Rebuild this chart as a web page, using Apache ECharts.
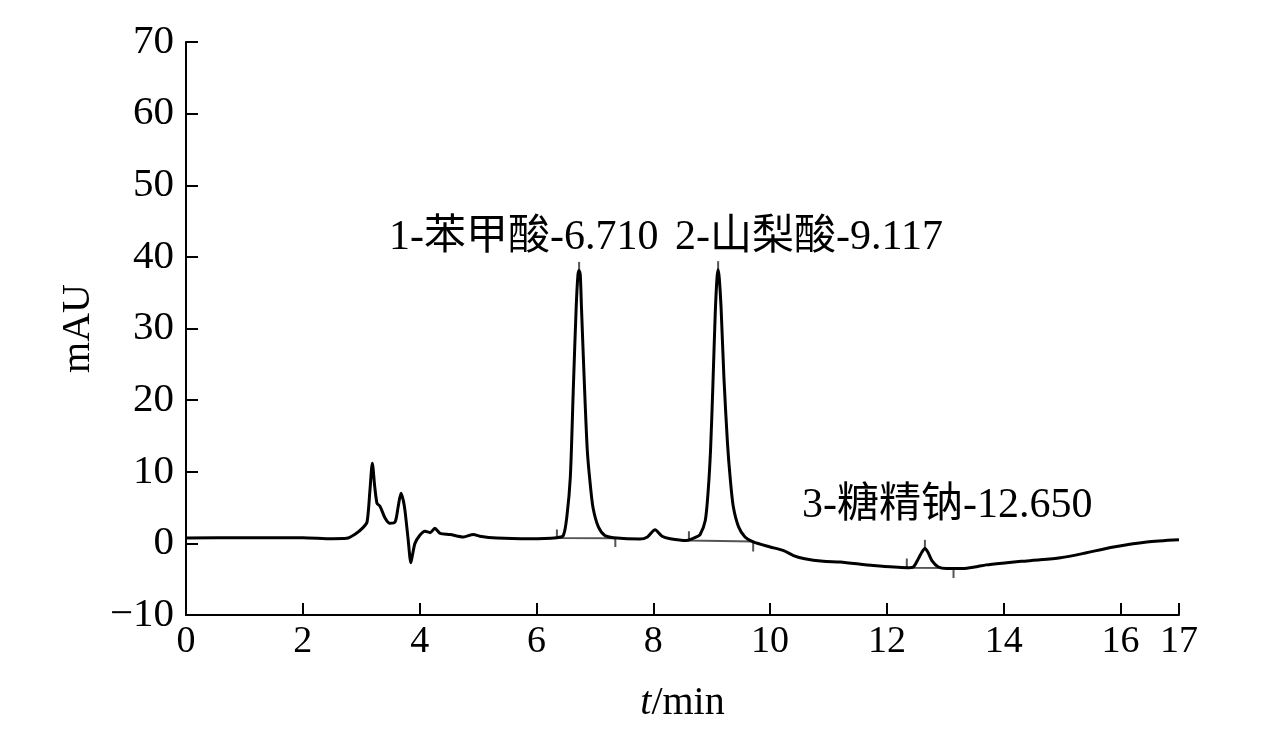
<!DOCTYPE html>
<html>
<head>
<meta charset="utf-8">
<script src="https://cdn.jsdelivr.net/npm/echarts@6/dist/echarts.min.js"></script>
<style>html,body{margin:0;padding:0;background:#fff}#c{width:1276px;height:734px}</style>
</head>
<body>
<div id="c"></div>
<script>
// retention time (min)
var timeMin = [0.0,1.0,2.0,2.5,2.75,2.9,3.03,3.10,3.15,3.19,3.23,3.27,3.32,3.41,3.49,3.58,3.63,3.68,3.72,3.75,3.80,3.85,3.88,3.92,4.00,4.09,4.18,4.26,4.35,4.52,4.75,4.92,5.03,5.32,5.89,6.35,6.46,6.52,6.58,6.63,6.68,6.71,6.73,6.75,6.77,6.82,6.87,6.92,6.97,7.06,7.17,7.32,7.77,7.90,8.03,8.15,8.29,8.57,8.74,8.80,8.89,8.94,8.98,9.02,9.06,9.09,9.11,9.13,9.16,9.21,9.27,9.32,9.37,9.46,9.57,9.71,10.0,10.23,10.40,10.57,10.91,11.2,11.77,12.34,12.45,12.54,12.60,12.65,12.70,12.77,12.88,13.02,13.3,13.5,13.7,14.05,14.3,14.62,14.97,15.31,15.88,16.45,17.0];
// detector signal (mAU)
var signal = [0.75,0.8,0.8,0.65,0.7,1.3,2.2,3.0,7.5,11.2,8.0,5.6,5.2,3.5,2.8,3.0,5.0,7.0,6.0,4.5,0.8,-2.7,-1.5,0.0,1.1,1.7,1.5,2.1,1.4,1.25,0.9,1.25,1.0,0.75,0.65,0.8,1.1,3.7,9.3,21.4,33,37.5,38.1,37.5,33,22.3,13,8.3,4.9,2.3,1.1,0.8,0.6,0.9,1.9,1.0,0.65,0.4,0.9,1.2,3.2,7.4,13,22,32,37,38.2,37,33,23,14,8.8,5.1,2.3,0.9,0.2,-0.5,-1.0,-1.7,-2.1,-2.5,-2.6,-3.1,-3.4,-3.3,-2.1,-1.2,-0.7,-1.2,-2.4,-3.3,-3.5,-3.5,-3.3,-3.0,-2.7,-2.5,-2.3,-2.0,-1.5,-0.5,0.2,0.5];
// integration baselines
var integStart = [6.35, 8.61, 12.34];
var integEnd = [7.35, 9.71, 13.14];
var integStartY = [0.75, 0.4, -3.4];
var integEndY = [0.7, 0.25, -3.45];
var tickUp = [1.2, 1.3, 1.3];
var tickDown = [1.2, 1.4, 1.4];
// apex marks
var apexT = [6.73, 9.11, 12.65];
var apexLow = [38.1, 38.2, -0.7];
var apexHigh = [39.3, 39.4, 0.5];
var peakLabels = ['1-苯甲酸-6.710', '2-山梨酸-9.117', '3-糖精钠-12.650'];
var xTicks = [0,2,4,6,8,10,12,14,16,17];
var yMin = -10, yMax = 70, yStep = 10;

var traceData = timeMin.map(function(t,i){return [t, signal[i]];});
var integData = [];
for (var i=0;i<integStart.length;i++){
  integData.push({coords:[
    [integStart[i], integStartY[i]+tickUp[i]],
    [integStart[i], integStartY[i]],
    [integEnd[i], integEndY[i]],
    [integEnd[i], integEndY[i]-tickDown[i]]
  ]});
  integData.push({coords:[[apexT[i], apexLow[i]],[apexT[i], apexHigh[i]]]});
}

var FONT = '"Liberation Serif", "Times New Roman", "Noto Sans CJK SC", serif';
var chart = echarts.init(document.getElementById('c'), null, {renderer:'canvas'});
chart.setOption({
  animation:false,
  backgroundColor:'#fff',
  grid:{left:186, right:97, top:42, bottom:119, containLabel:false},
  xAxis:{
    type:'value', min:0, max:17,
    axisLine:{onZero:false, lineStyle:{color:'#000', width:2}},
    axisTick:{inside:true, length:12, lineStyle:{color:'#000', width:2}, customValues:xTicks},
    axisLabel:{color:'#000', fontFamily:FONT, fontSize:38, margin:8, customValues:xTicks},
    splitLine:{show:false},
    name:'{i|t}/min', nameLocation:'middle', nameGap:68,
    nameTextStyle:{color:'#000', fontFamily:FONT, fontSize:40,
      rich:{i:{fontStyle:'italic', fontFamily:FONT, fontSize:40, color:'#000'}}}
  },
  yAxis:{
    type:'value', min:yMin, max:yMax, interval:yStep,
    axisLine:{show:true, onZero:false, lineStyle:{color:'#000', width:2}},
    axisTick:{show:true, inside:true, length:12, lineStyle:{color:'#000', width:2}},
    axisLabel:{color:'#000', fontFamily:FONT, fontSize:41, margin:12,
      formatter:function(v){return v<0 ? '\u2212'+Math.abs(v) : String(v);}},
    splitLine:{show:false},
    name:'mAU', nameLocation:'middle', nameGap:86,
    nameTextStyle:{color:'#000', fontFamily:FONT, fontSize:40}
  },
  series:[
    {type:'lines', coordinateSystem:'cartesian2d', polyline:true, silent:true,
      lineStyle:{color:'#555', width:2, opacity:1}, data:integData, z:1},
    {type:'line', data:traceData, showSymbol:false, smooth:0.25,
      lineStyle:{color:'#000', width:3}, z:2}
  ],
  graphic:[
    {type:'text', left:389, top:217, style:{text:peakLabels[0], font:'42px '+FONT, fill:'#000'}},
    {type:'text', left:675, top:217, style:{text:peakLabels[1], font:'42px '+FONT, fill:'#000'}},
    {type:'text', left:802, top:485, style:{text:peakLabels[2], font:'42px '+FONT, fill:'#000'}}
  ]
});
</script>
</body>
</html>
